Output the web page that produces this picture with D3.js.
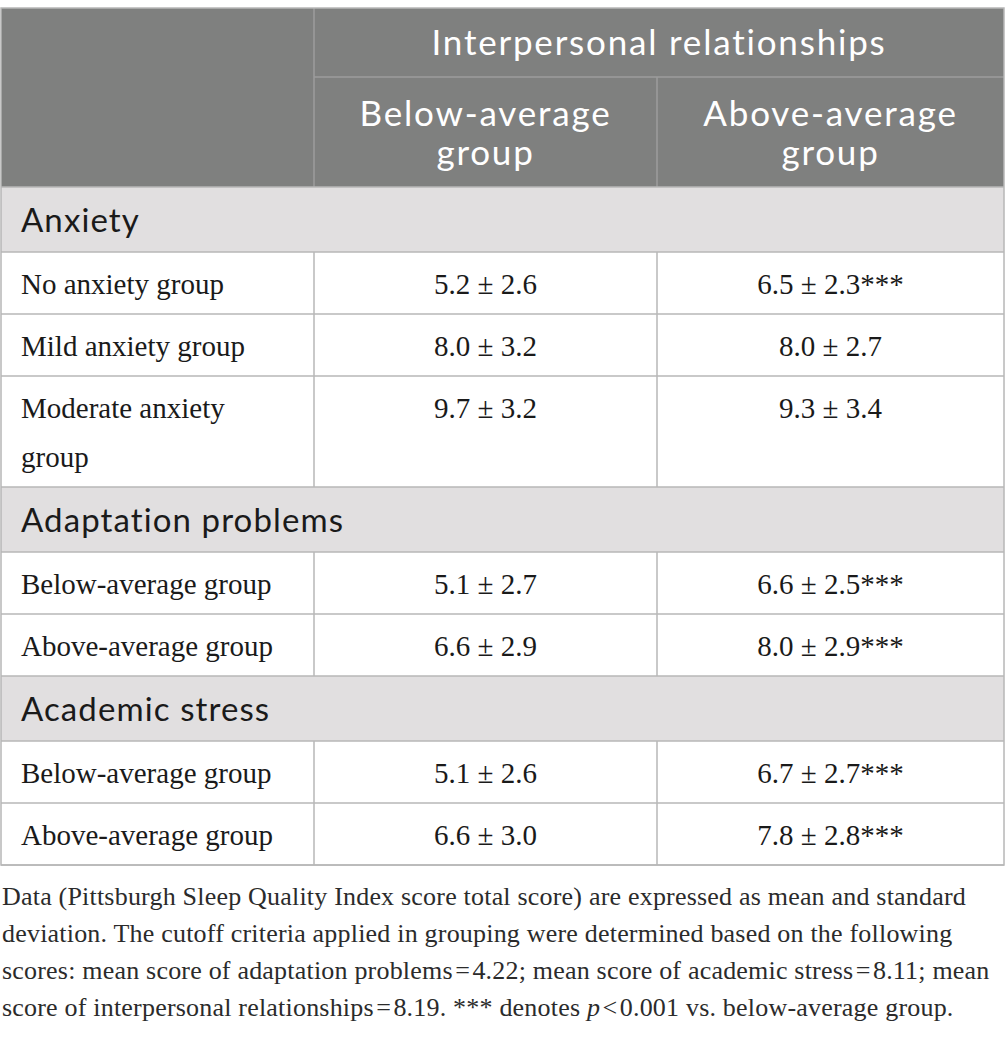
<!DOCTYPE html>
<html>
<head>
<meta charset="utf-8">
<script src="https://cdn.jsdelivr.net/npm/d3@7/dist/d3.min.js"></script>
<style>
  body { margin: 0; background: #fff; }
  svg { display: block; }
</style>
</head>
<body>
<div id="table"></div>
<script>
// table content
var groupTitle = "Interpersonal relationships";
var columnTitles = ["Below-average group", "Above-average group"];
var sections = ["Anxiety", "Adaptation problems", "Academic stress"];
var rowLabels = [
  ["No anxiety group", "Mild anxiety group", "Moderate anxiety group"],
  ["Below-average group", "Above-average group"],
  ["Below-average group", "Above-average group"]
];
var belowMean = [5.2, 8.0, 9.7, 5.1, 6.6, 5.1, 6.6];
var belowSD   = [2.6, 3.2, 3.2, 2.7, 2.9, 2.6, 3.0];
var aboveMean = [6.5, 8.0, 9.3, 6.6, 8.0, 6.7, 7.8];
var aboveSD   = [2.3, 2.7, 3.4, 2.5, 2.9, 2.7, 2.8];
var aboveSig  = ["***", "", "", "***", "***", "***", "***"];
var footLines = [
  [{t: "Data (Pittsburgh Sleep Quality Index score total score) are expressed as mean and standard"}],
  [{t: "deviation. The cutoff criteria applied in grouping were determined based on the following"}],
  [{t: "scores: mean score of adaptation problems\u200a=\u200a4.22; mean score of academic stress\u200a=\u200a8.11; mean"}],
  [{t: "score of interpersonal relationships\u200a=\u200a8.19. *** denotes "}, {t: "p", i: true}, {t: "\u200a<\u200a0.001 vs. below-average group."}]
];

var W = 1005, H = 1037;
var top0 = 8;
var colX = d3.scaleOrdinal().domain([0, 1, 2, 3]).range([1, 314, 657, 1004]);
var sans = "Lato, 'Open Sans', sans-serif";
var serif = "'Liberation Serif', 'DejaVu Serif', serif";
var lineCol = "#b7b7b7";
var ink = "#1a1a1a";

var fmt = d3.format(".1f");

// flatten rows
var rows = [];
var k = 0;
sections.forEach(function(s, si) {
  rows.push({type: "section", label: s});
  rowLabels[si].forEach(function(l) {
    rows.push({type: "data", label: l,
      below: fmt(belowMean[k]) + " \u00b1 " + fmt(belowSD[k]),
      above: fmt(aboveMean[k]) + " \u00b1 " + fmt(aboveSD[k]) + aboveSig[k]});
    k++;
  });
});

var svg = d3.select("#table").append("svg")
  .attr("width", W).attr("height", H);

var measurer = svg.append("text");
function wrap(str, maxW, family, size) {
  measurer.attr("font-family", family).attr("font-size", size);
  var words = str.split(/\s+/), lines = [], line = "";
  words.forEach(function(w) {
    var t = line ? line + " " + w : w;
    measurer.text(t);
    if (measurer.node().getComputedTextLength() > maxW && line) {
      lines.push(line); line = w;
    } else line = t;
  });
  lines.push(line);
  return lines;
}

// row geometry
var y = top0 + 69 + 110;
rows.forEach(function(r) {
  r.lines = r.type === "data" ? wrap(r.label, 262, serif, 29) : [r.label];
  r.h = r.type === "section" ? 65 : 62 + (r.lines.length - 1) * 49;
  r.y = y;
  y += r.h;
});
measurer.remove();
var tableBottom = y;

// header
var head = svg.append("g");
head.append("rect").attr("x", colX(0)).attr("y", top0)
  .attr("width", colX(3) - colX(0)).attr("height", 179).attr("fill", "#7f807f");
head.append("text")
  .attr("x", (colX(1) + colX(3)) / 2).attr("y", top0 + 47)
  .attr("text-anchor", "middle").attr("font-family", sans).attr("font-size", 35)
  .attr("letter-spacing", 1.8).attr("fill", "#fff").text(groupTitle);
columnTitles.forEach(function(c, i) {
  var cx = (colX(i + 1) + colX(i + 2)) / 2;
  var p = c.split(" ");
  var t = head.append("text").attr("text-anchor", "middle")
    .attr("font-family", sans).attr("font-size", 35).attr("letter-spacing", 1.8)
    .attr("fill", "#fff");
  t.selectAll("tspan").data([p.slice(0, -1).join(" "), p[p.length - 1]]).enter().append("tspan")
    .attr("x", cx).attr("y", function(d, j) { return top0 + 118 + j * 39; })
    .text(function(d) { return d; });
});
// header inner lines
var hl = "#9c9c9c";
head.append("line").attr("x1", colX(1)).attr("x2", colX(3))
  .attr("y1", top0 + 69).attr("y2", top0 + 69).attr("stroke", hl).attr("stroke-width", 1.5);
head.append("line").attr("x1", colX(1)).attr("x2", colX(1))
  .attr("y1", top0).attr("y2", top0 + 179).attr("stroke", hl).attr("stroke-width", 1.5);
head.append("line").attr("x1", colX(2)).attr("x2", colX(2))
  .attr("y1", top0 + 69).attr("y2", top0 + 179).attr("stroke", hl).attr("stroke-width", 1.5);

// body rows
var body = svg.append("g");
var rg = body.selectAll("g.row").data(rows).enter().append("g")
  .attr("class", "row")
  .attr("transform", function(d) { return "translate(0," + d.y + ")"; });

rg.filter(function(d) { return d.type === "section"; }).each(function(d) {
  var g = d3.select(this);
  g.append("rect").attr("x", colX(0)).attr("width", colX(3) - colX(0))
    .attr("height", d.h).attr("fill", "#e1dfe0");
  g.append("text").attr("x", 21).attr("y", 45)
    .attr("font-family", sans).attr("font-size", 33).attr("letter-spacing", 1.1)
    .attr("fill", ink).text(d.label);
});

rg.filter(function(d) { return d.type === "data"; }).each(function(d) {
  var g = d3.select(this);
  g.append("text").attr("font-family", serif).attr("font-size", 29).attr("fill", ink)
    .selectAll("tspan").data(d.lines).enter().append("tspan")
    .attr("x", 21).attr("y", function(l, j) { return 42 + j * 49; })
    .text(function(l) { return l; });
  [d.below, d.above].forEach(function(v, i) {
    g.append("text").attr("x", (colX(i + 1) + colX(i + 2)) / 2).attr("y", 42)
      .attr("text-anchor", "middle").attr("font-family", serif).attr("font-size", 29)
      .attr("fill", ink).text(v);
  });
  g.selectAll("line.v").data([1, 2]).enter().append("line")
    .attr("x1", colX).attr("x2", colX).attr("y1", 0).attr("y2", d.h)
    .attr("stroke", lineCol).attr("stroke-width", 1.5);
});

// horizontal rules
body.selectAll("line.h").data(rows.map(function(r) { return r.y; }).concat([tableBottom]))
  .enter().append("line")
  .attr("x1", colX(0)).attr("x2", colX(3))
  .attr("y1", function(d) { return d; }).attr("y2", function(d) { return d; })
  .attr("stroke", lineCol).attr("stroke-width", 1.5);

// outer border
svg.append("rect").attr("x", colX(0)).attr("y", top0)
  .attr("width", colX(3) - colX(0)).attr("height", tableBottom - top0)
  .attr("fill", "none").attr("stroke", lineCol).attr("stroke-width", 1.5);

// footnote
var foot = svg.append("text").attr("font-family", serif).attr("font-size", 26)
  .attr("letter-spacing", 0.2).attr("fill", "#2b2b2b");
footLines.forEach(function(parts, i) {
  var ln = foot.append("tspan").attr("x", 2).attr("y", tableBottom + 40 + i * 37);
  parts.forEach(function(p) {
    ln.append("tspan").text(p.t).attr("font-style", p.i ? "italic" : null);
  });
});
</script>
</body>
</html>
